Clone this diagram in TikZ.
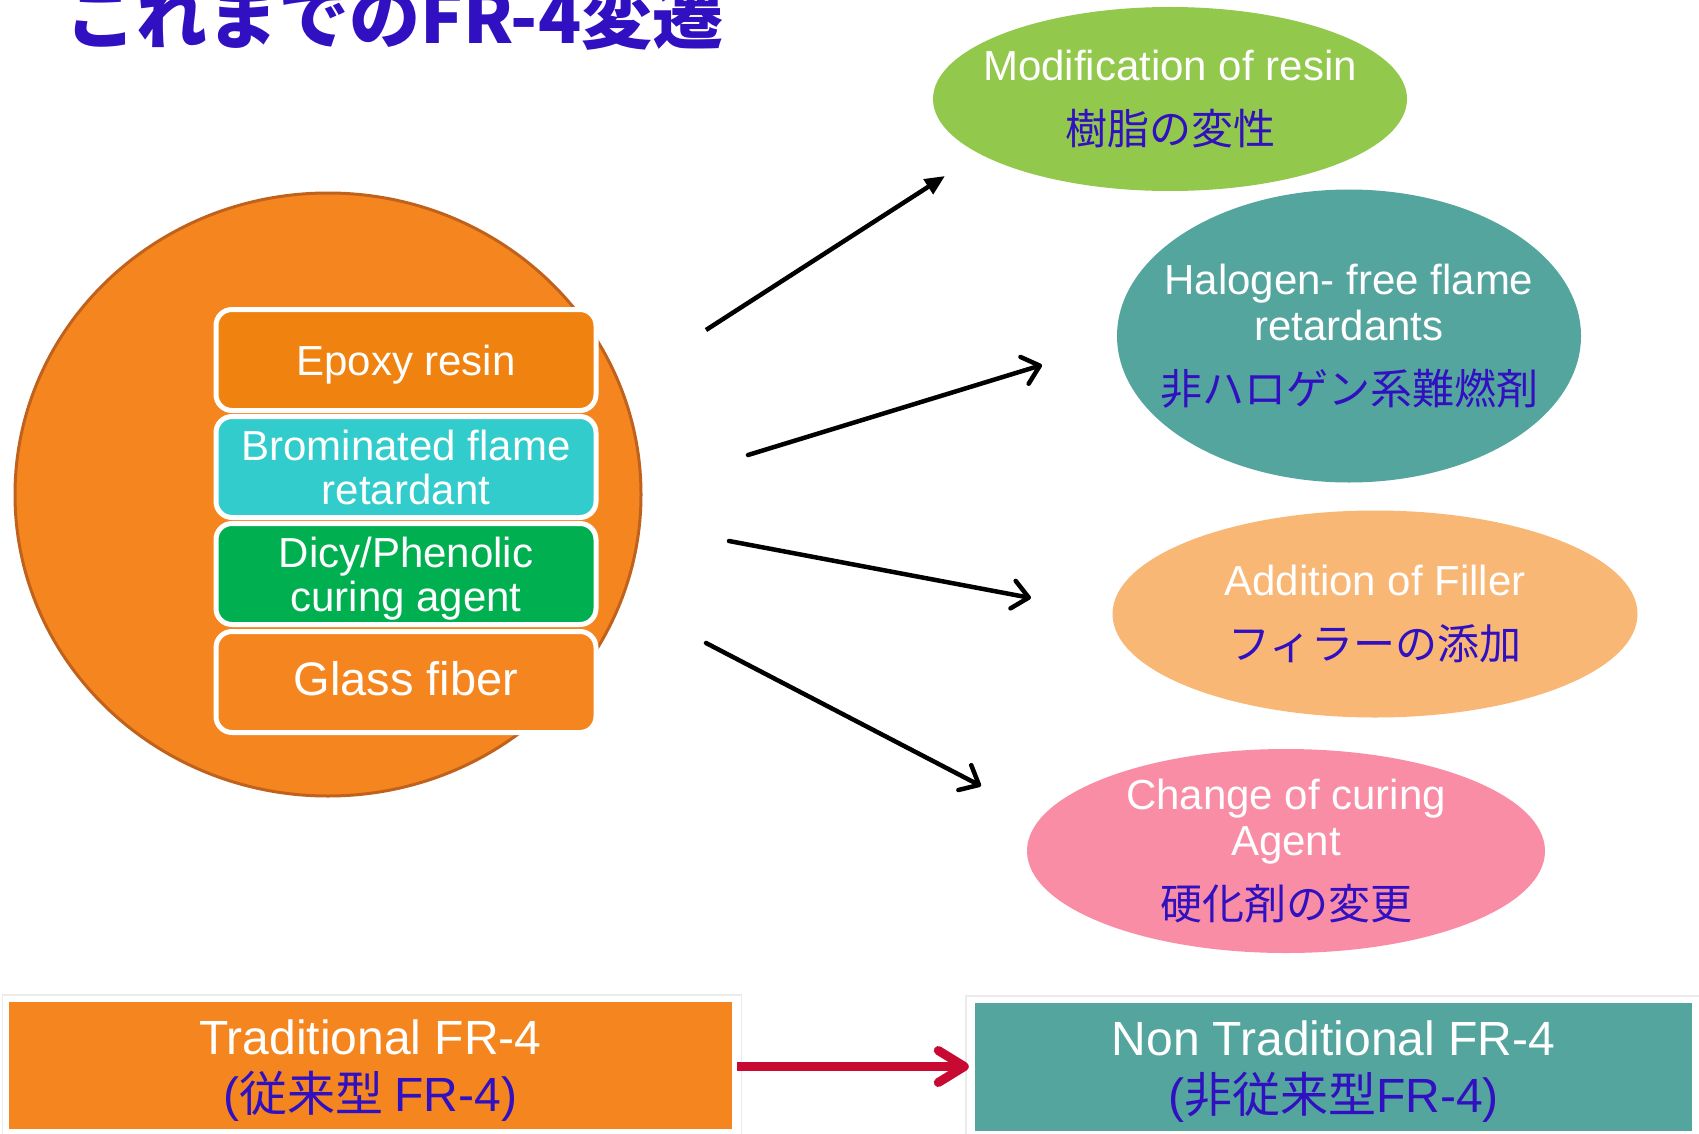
\documentclass[tikz,border=0pt]{standalone}
\usepackage{fontspec}
\setmainfont{Liberation Sans}
\newfontfamily\jp{Noto Sans CJK JP}
\usetikzlibrary{shapes.geometric,arrows.meta}
\definecolor{corange}{HTML}{F5861F}
\definecolor{cborder}{HTML}{C0621C}
\definecolor{eporange}{HTML}{F08210}
\definecolor{cyanbox}{HTML}{33CCCC}
\definecolor{greenbox}{HTML}{00B050}
\definecolor{egreen}{HTML}{92C84B}
\definecolor{eteal}{HTML}{55A59F}
\definecolor{elorange}{HTML}{F9B776}
\definecolor{epink}{HTML}{F98DA6}
\definecolor{jblue}{HTML}{3010C0}
\definecolor{redarrow}{HTML}{C80A32}
\tikzset{
  layer/.style={rectangle, rounded corners=16pt, draw=white, line width=5pt,
    minimum width=380pt, minimum height=101pt, inner sep=0pt, text=white,
    align=center, font=\fontsize{42}{44}\selectfont},
  ell/.style={ellipse, inner sep=0pt, draw=none},
  etext/.style={align=center, text=white, inner sep=0pt, font=\fontsize{42}{46}\selectfont},
  bottombox/.style={rectangle, inner sep=0pt, align=center, text=white,
    font=\fontsize{48}{57}\selectfont, text depth=0pt},
  shadowbox/.style={rectangle, draw=black!8, line width=1.5pt, fill=none},
  flow/.style={line width=4.5pt, line cap=round, -{Straight Barb[length=16pt,width=28pt,line width=4.5pt,round]}},
  flowtri/.style={line width=4.5pt, -{Triangle[length=20pt,width=17pt]}},
  bigflow/.style={line width=9pt, draw=redarrow, -{Straight Barb[length=26pt,width=32pt,line width=9pt,round]}}
}
\newcommand{\jb}[1]{{\color{jblue}\jp #1}}
\begin{document}
\begin{tikzpicture}[x=1pt,y=-1pt]
\clip (0,0) rectangle (1699,1134);
\fill[white] (0,0) rectangle (1699,1134);
% title
\node[anchor=base west, inner sep=0pt, text=jblue, font=\jp\bfseries\fontsize{71}{71}\selectfont] (title) at (65,44) {これまでのFR-4変遷};
% big circle
\node[ellipse, minimum width=626pt, minimum height=603pt, fill=corange, draw=cborder, line width=3pt] (circ) at (328,494.5) {};
% layers
\node[layer, fill=eporange, text height=40pt, text depth=10pt] (b1) at (406,360) {Epoxy resin};
\node[layer, fill=cyanbox] (b2) at (406,467) {Brominated flame\\retardant};
\node[layer, fill=greenbox, text depth=0pt] (b3) at (406,574) {Dicy/Phenolic\\curing agent};
\node[layer, fill=corange, font=\fontsize{47}{47}\selectfont, text height=37pt, text depth=11pt] (b4) at (406,682) {Glass fiber};
% ellipses
\node[ell, fill=egreen, minimum width=474pt, minimum height=184pt] (e1) at (1170,99) {};
\node[etext] (t1) at (e1.center) {Modification of resin\\[18pt]\jb{樹脂の変性}};
\node[ell, fill=eteal, minimum width=464pt, minimum height=293pt] (e2) at (1349,336) {};
\node[etext] (t2) at (e2.center) {Halogen- free flame\\retardants\\[18pt]\jb{非ハロゲン系難燃剤}};
\node[ell, fill=elorange, minimum width=525pt, minimum height=207pt] (e3) at (1375,614) {};
\node[etext] (t3) at (e3.center) {Addition of Filler\\[18pt]\jb{フィラーの添加}};
\node[ell, fill=epink, minimum width=518pt, minimum height=204pt] (e4) at (1286,851) {};
\node[etext] (t4) at (e4.center) {Change of curing\\Agent\\[18pt]\jb{硬化剤の変更}};
% arrows
\coordinate (s1) at (706,330); \coordinate (a1) at (945,176);
\coordinate (s2) at (748,455); \coordinate (a2) at (1042,365);
\coordinate (s3) at (729,541); \coordinate (a3) at (1031,598);
\coordinate (s4) at (706,643); \coordinate (a4) at (981,786);
\draw[flowtri] (s1) -- (a1);
\draw[flow] (s2) -- (a2);
\draw[flow] (s3) -- (a3);
\draw[flow] (s4) -- (a4);
% bottom boxes
\node[shadowbox, minimum width=739pt, minimum height=141pt] (lsh) at (372,1065.5) {};
\node[shadowbox, minimum width=735pt, minimum height=142pt] (rsh) at (1333.5,1067) {};
\node[bottombox, fill=corange, minimum width=723pt, minimum height=127pt] (lb) at (370.5,1065.5)
  {Traditional FR-4\\{\color{jblue}(\jp 従来型 \rmfamily FR-4)}};
\node[bottombox, fill=eteal, minimum width=717pt, minimum height=128pt] (rb) at (1333.5,1067)
  {Non Traditional FR-4\\{\color{jblue}(\jp 非従来型\rmfamily FR-4)}};
\draw[bigflow, shorten >=6pt] (lb.east) ++(5,1) coordinate (rs) (rs) -- (rb.west |- rs);
\end{tikzpicture}
\end{document}
